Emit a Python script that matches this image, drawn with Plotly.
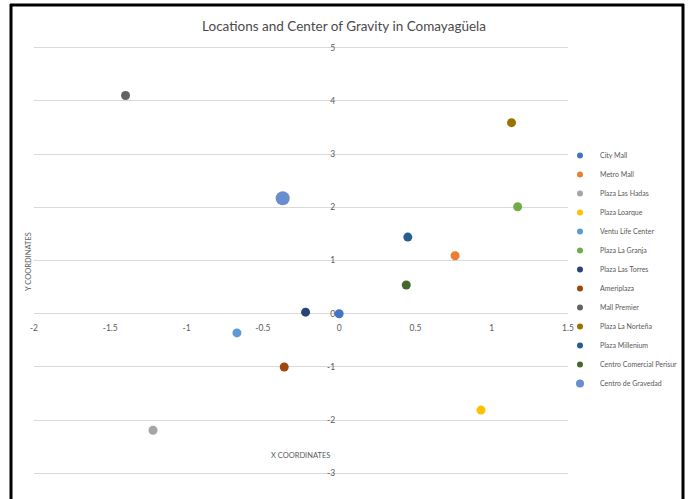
import plotly.graph_objects as go

# Shopping centres in Comayagüela and their computed centre of gravity
locations = [
    "City Mall", "Metro Mall", "Plaza Las Hadas", "Plaza Loarque",
    "Ventu Life Center", "Plaza La Granja", "Plaza Las Torres", "Ameriplaza",
    "Mall Premier", "Plaza La Norteña", "Plaza Millenium",
    "Centro Comercial Perisur", "Centro de Gravedad",
]
x_coords = [0.0, 0.76, -1.22, 0.93, -0.67, 1.17, -0.22, -0.36, -1.40, 1.13, 0.45, 0.44, -0.37]
y_coords = [0.0, 1.09, -2.19, -1.81, -0.36, 2.01, 0.03, -1.00, 4.10, 3.59, 1.44, 0.54, 2.17]

x_ticks = [-2, -1.5, -1, -0.5, 0, 0.5, 1, 1.5]
y_ticks = [-3, -2, -1, 0, 1, 2, 3, 4, 5]

# Office-style series palette
colors = ["#4472C4", "#ED7D31", "#A5A5A5", "#FFC000", "#5B9BD5", "#70AD47",
          "#264478", "#9E480E", "#636363", "#997300", "#255E91", "#43682B",
          "#698ED0"]

FONT = "Lato, sans-serif"
GRID = "#D9D9D9"
TEXT = "#595959"

fig = go.Figure()
for i, name in enumerate(locations):
    big = name == "Centro de Gravedad"
    fig.add_trace(go.Scatter(
        x=[x_coords[i]], y=[y_coords[i]], mode="markers", name=name,
        marker=dict(color=colors[i], size=14 if big else 9),
        showlegend=False,
    ))
# smaller symbols for the legend entries
for i, name in enumerate(locations):
    big = name == "Centro de Gravedad"
    fig.add_trace(go.Scatter(
        x=[None], y=[None], mode="markers", name=name,
        marker=dict(color=colors[i], size=8 if big else 6),
        showlegend=True,
    ))

W, H = 688, 499
YPAD = 0.03  # keeps the outer gridlines (5 and -3) inside the plot
ppu = 425 / 8  # pixels per y unit
L, R = 34, 568
T = round(48 - YPAD * ppu)
B = round(473 + YPAD * ppu)
pw, ph = R - L, B - T


def px_x(p):
    return (p - L) / pw


def px_y(p):
    return (B - p) / ph


fig.update_layout(
    width=W, height=H,
    margin=dict(l=L, r=W - R, t=T, b=H - B, pad=0, autoexpand=False),
    paper_bgcolor="white", plot_bgcolor="white",
    font=dict(family=FONT, color=TEXT, size=9),
    title=dict(text="Locations and Center of Gravity in Comayagüela",
               x=0.5, xanchor="center", y=1 - 26 / H, yanchor="middle",
               font=dict(family=FONT, size=13.5, color="#4a4a4a")),
    xaxis=dict(range=[-2, 1.5], tickvals=x_ticks, ticktext=[f"{v:g}" for v in x_ticks],
               showgrid=False, zeroline=False, showline=False,
               anchor="free", position=(3 + YPAD) / (8 + 2 * YPAD), ticks="",
               ticklabelstandoff=8,
               tickfont=dict(size=8.5, color=TEXT, family=FONT)),
    yaxis=dict(range=[-3 - YPAD, 5 + YPAD], tickvals=y_ticks,
               ticktext=[f"{v:g}" for v in y_ticks],
               showgrid=True, gridcolor=GRID, gridwidth=1,
               zeroline=True, zerolinecolor=GRID, zerolinewidth=1,
               showline=False, anchor="free", position=2 / 3.5, ticks="",
               ticklabelstandoff=4,
               tickfont=dict(size=8.5, color=TEXT, family=FONT)),
    legend=dict(x=px_x(560), xanchor="left", y=px_y(141), yanchor="top",
                font=dict(size=7, color=TEXT, family=FONT),
                bgcolor="rgba(0,0,0,0)", itemsizing="trace"),
    annotations=[
        dict(text="X COORDINATES", xref="paper", yref="paper",
             x=px_x(300), y=px_y(455), xanchor="center", yanchor="middle",
             showarrow=False, font=dict(size=7.5, color=TEXT, family=FONT)),
        dict(text="Y COORDINATES", xref="paper", yref="paper",
             x=px_x(28), y=px_y(262), xanchor="center", yanchor="middle",
             textangle=-90, showarrow=False,
             font=dict(size=7.5, color=TEXT, family=FONT)),
    ],
    shapes=[
        dict(type="line", xref="paper", yref="paper", x0=px_x(11), x1=px_x(11),
             y0=px_y(4), y1=px_y(510), line=dict(color="black", width=3)),
        dict(type="line", xref="paper", yref="paper", x0=px_x(683), x1=px_x(683),
             y0=px_y(4), y1=px_y(510), line=dict(color="black", width=3)),
        dict(type="line", xref="paper", yref="paper", x0=px_x(10), x1=px_x(684),
             y0=px_y(5), y1=px_y(5), line=dict(color="black", width=3)),
    ],
)

fig.write_html("out.html")
